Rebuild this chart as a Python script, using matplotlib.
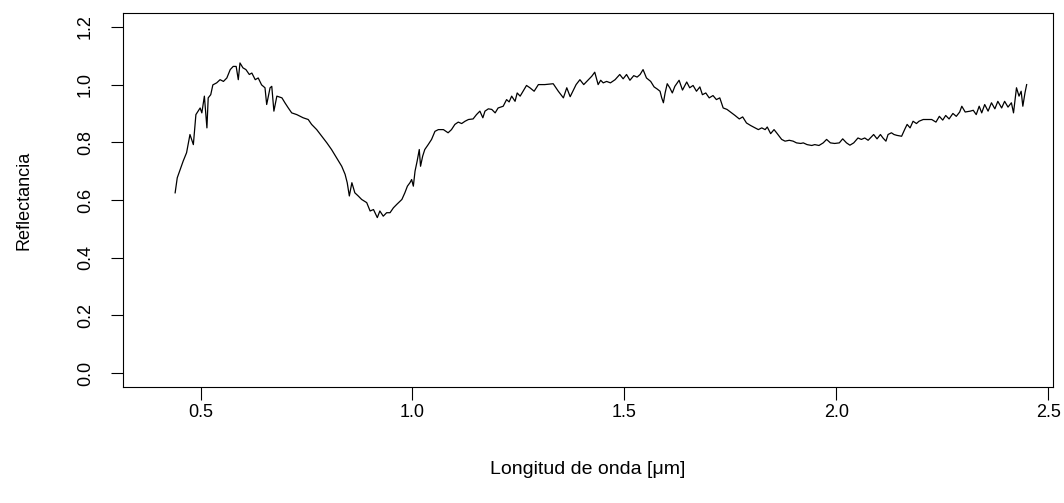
import matplotlib
matplotlib.use("Agg")
import matplotlib.pyplot as plt

# wavelength [um] and reflectance
wavelength = [
    0.440, 0.445, 0.452, 0.459, 0.467, 0.475, 0.483, 0.489, 0.499, 0.503,
    0.509, 0.515, 0.518, 0.524, 0.529, 0.538, 0.546, 0.554, 0.562, 0.570,
    0.577, 0.584, 0.589, 0.593, 0.600, 0.607, 0.615, 0.621, 0.629, 0.636,
    0.644, 0.652, 0.656, 0.664, 0.668, 0.673, 0.680, 0.692, 0.699, 0.707,
    0.715, 0.727, 0.735, 0.742, 0.754, 0.762, 0.774, 0.786, 0.798, 0.809,
    0.821, 0.833, 0.841, 0.846, 0.851, 0.857, 0.864, 0.872, 0.880, 0.892,
    0.900, 0.908, 0.917, 0.923, 0.931, 0.939, 0.947, 0.955, 0.963, 0.975,
    0.982, 0.988, 0.994, 0.998, 1.002, 1.006, 1.011, 1.016, 1.019, 1.024,
    1.029, 1.037, 1.045, 1.053, 1.061, 1.073, 1.084, 1.092, 1.100, 1.108,
    1.116, 1.124, 1.132, 1.143, 1.151, 1.159, 1.166, 1.171, 1.179, 1.187,
    1.195, 1.202, 1.214, 1.222, 1.228, 1.234, 1.242, 1.247, 1.254, 1.261,
    1.269, 1.277, 1.287, 1.297, 1.312, 1.332, 1.344, 1.356, 1.364, 1.372,
    1.386, 1.395, 1.404, 1.415, 1.423, 1.430, 1.438, 1.444, 1.450, 1.458,
    1.467, 1.478, 1.489, 1.497, 1.505, 1.513, 1.522, 1.530, 1.537, 1.544,
    1.552, 1.562, 1.570, 1.577, 1.584, 1.588, 1.592, 1.596, 1.601, 1.607,
    1.613, 1.619, 1.629, 1.637, 1.647, 1.654, 1.662, 1.670, 1.678, 1.684,
    1.692, 1.700, 1.709, 1.717, 1.725, 1.733, 1.742, 1.753, 1.761, 1.771,
    1.779, 1.788, 1.798, 1.808, 1.816, 1.824, 1.832, 1.837, 1.845, 1.853,
    1.859, 1.871, 1.879, 1.889, 1.898, 1.906, 1.916, 1.922, 1.931, 1.942,
    1.949, 1.959, 1.969, 1.977, 1.986, 1.996, 2.007, 2.015, 2.024, 2.032,
    2.041, 2.051, 2.059, 2.067, 2.075, 2.083, 2.088, 2.096, 2.104, 2.110,
    2.117, 2.122, 2.130, 2.136, 2.143, 2.154, 2.162, 2.167, 2.174, 2.181,
    2.189, 2.195, 2.205, 2.225, 2.235, 2.243, 2.251, 2.258, 2.266, 2.275,
    2.283, 2.291, 2.296, 2.304, 2.316, 2.323, 2.330, 2.337, 2.343, 2.350,
    2.358, 2.366, 2.374, 2.381, 2.390, 2.397, 2.405, 2.413, 2.418, 2.425,
    2.431, 2.436, 2.440, 2.445, 2.449,
]
reflectance = [
    0.625, 0.677, 0.706, 0.735, 0.764, 0.827, 0.792, 0.896, 0.919, 0.902,
    0.960, 0.850, 0.954, 0.965, 0.999, 1.006, 1.017, 1.011, 1.023, 1.052,
    1.063, 1.063, 1.017, 1.075, 1.058, 1.052, 1.035, 1.040, 1.017, 1.023,
    0.999, 0.989, 0.931, 0.989, 0.994, 0.908, 0.960, 0.954, 0.937, 0.919,
    0.902, 0.896, 0.890, 0.885, 0.879, 0.862, 0.844, 0.821, 0.798, 0.775,
    0.746, 0.717, 0.689, 0.660, 0.614, 0.660, 0.625, 0.614, 0.602, 0.591,
    0.562, 0.567, 0.539, 0.562, 0.544, 0.556, 0.556, 0.573, 0.585, 0.602,
    0.625, 0.648, 0.660, 0.671, 0.648, 0.700, 0.735, 0.775, 0.717, 0.752,
    0.775, 0.792, 0.810, 0.838, 0.844, 0.844, 0.833, 0.844, 0.862, 0.870,
    0.865, 0.873, 0.879, 0.881, 0.896, 0.908, 0.885, 0.908, 0.916, 0.914,
    0.902, 0.919, 0.925, 0.948, 0.940, 0.960, 0.942, 0.971, 0.960, 0.977,
    0.997, 0.989, 0.977, 1.000, 1.000, 1.003, 0.977, 0.954, 0.989, 0.958,
    1.000, 1.017, 1.000, 1.017, 1.029, 1.043, 1.000, 1.015, 1.006, 1.011,
    1.006, 1.017, 1.035, 1.020, 1.035, 1.015, 1.031, 1.026, 1.035, 1.052,
    1.023, 1.011, 0.992, 0.985, 0.977, 0.954, 0.937, 0.971, 1.003, 0.989,
    0.971, 0.994, 1.015, 0.981, 1.009, 0.989, 0.997, 0.977, 0.992, 0.965,
    0.971, 0.954, 0.962, 0.948, 0.954, 0.919, 0.914, 0.902, 0.893, 0.881,
    0.888, 0.867, 0.858, 0.850, 0.844, 0.850, 0.844, 0.853, 0.830, 0.844,
    0.833, 0.810, 0.804, 0.807, 0.804, 0.798, 0.796, 0.798, 0.792, 0.789,
    0.792, 0.789, 0.798, 0.810, 0.798, 0.796, 0.798, 0.812, 0.798, 0.790,
    0.798, 0.815, 0.810, 0.815, 0.807, 0.819, 0.827, 0.812, 0.827, 0.815,
    0.804, 0.827, 0.833, 0.827, 0.824, 0.821, 0.847, 0.862, 0.850, 0.873,
    0.865, 0.873, 0.879, 0.879, 0.870, 0.890, 0.877, 0.893, 0.881, 0.900,
    0.890, 0.905, 0.925, 0.905, 0.908, 0.911, 0.896, 0.925, 0.902, 0.931,
    0.908, 0.937, 0.916, 0.942, 0.919, 0.942, 0.922, 0.937, 0.902, 0.989,
    0.960, 0.977, 0.925, 0.971, 1.000,
]

x_ticks = [0.5, 1.0, 1.5, 2.0, 2.5]
y_ticks = [0.0, 0.2, 0.4, 0.6, 0.8, 1.0, 1.2]

plt.rcParams["font.family"] = ["Liberation Sans", "DejaVu Sans"]

fig = plt.figure(figsize=(10.64, 5.03), dpi=100)
ax = fig.add_axes([0.1156, 0.2306, 0.874, 0.7435])

ax.plot(wavelength, reflectance, color="black", lw=0.9)

ax.set_xlim(0.317, 2.511)
ax.set_ylim(-0.048, 1.248)
ax.set_xticks(x_ticks)
ax.set_xticklabels([f"{v:.1f}" for v in x_ticks])
ax.set_yticks(y_ticks)
ax.set_yticklabels([f"{v:.1f}" for v in y_ticks], rotation=90, va="center")

for s in ax.spines.values():
    s.set_linewidth(0.8)
    s.set_color("black")
ax.tick_params(direction="out", length=9, width=0.8, labelsize=13,
               colors="black")
ax.tick_params(axis="x", pad=3)
ax.tick_params(axis="y", pad=12)

ax.set_xlabel("Longitud de onda [\u03bcm]", fontsize=14, labelpad=29)
ax.set_ylabel("Reflectancia", fontsize=13, labelpad=32)

fig.savefig("out.png", dpi=100)
